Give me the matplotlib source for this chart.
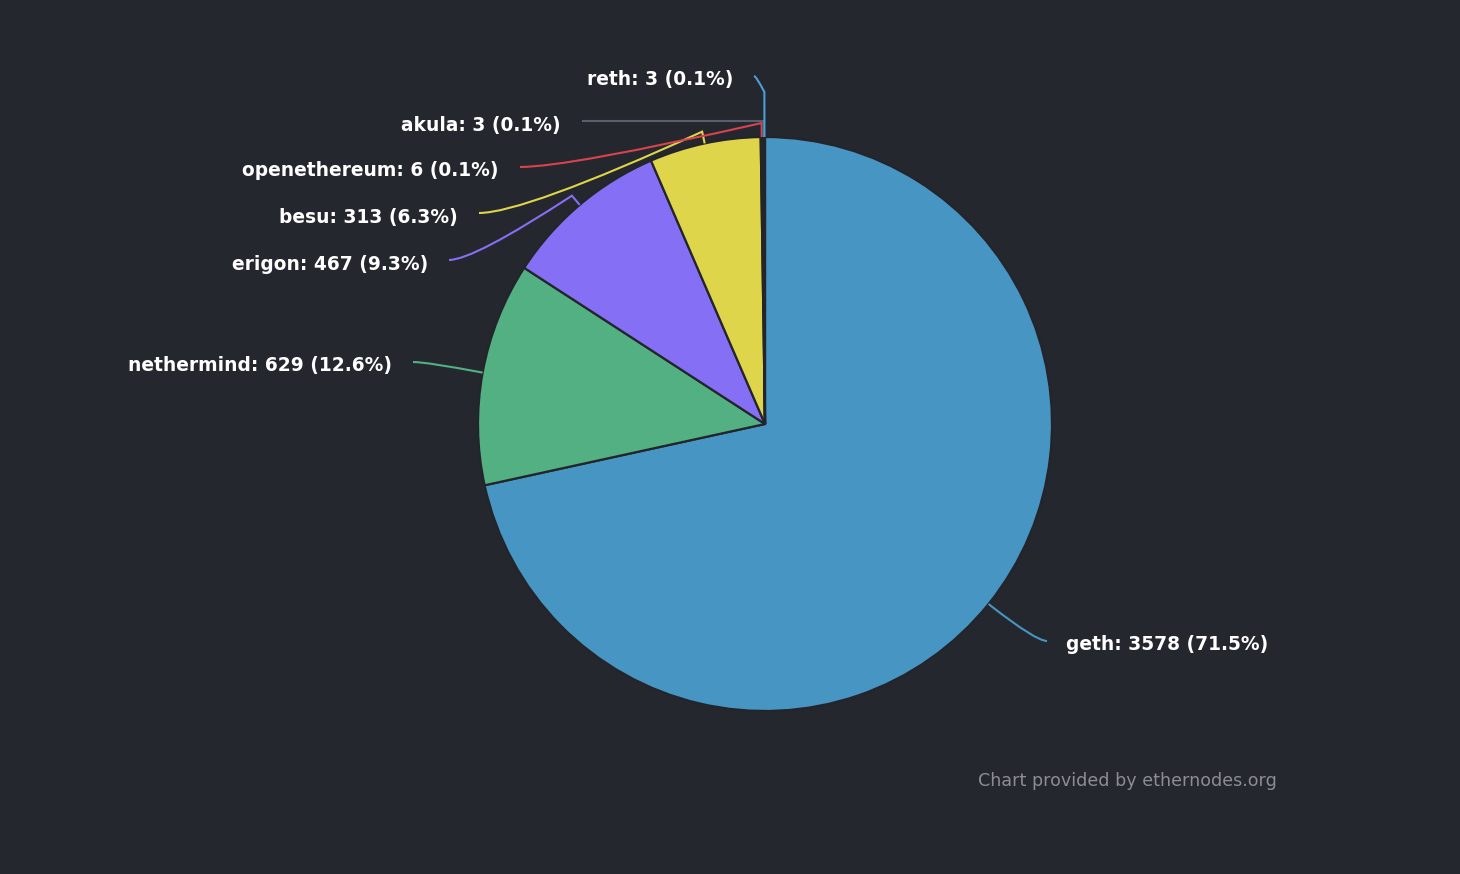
import numpy as np
import matplotlib.pyplot as plt
from matplotlib.path import Path
from matplotlib.patches import PathPatch

# data #
clients = ['geth', 'nethermind', 'erigon', 'besu', 'openethereum', 'akula', 'reth']
nodes = [3578, 629, 467, 313, 6, 3, 3]
pcts = [71.5, 12.6, 9.3, 6.3, 0.1, 0.1, 0.1]
colors = ['#4795c3', '#53b083', '#846ff5', '#dfd54a', '#d8434e', '#5a5f6e', '#4a9fd4']

# layout (pixels, y down) #
W, H = 1460, 874
cx, cy, R = 765, 424, 287
label_end = [(1047, 641), (413, 362), (449, 260), (479, 213), (520, 167), (582, 121), (754, 76)]
knee_d = [4, 2, 12, 12, 14, 16, 45]
bg = '#25272e'

fig = plt.figure(figsize=(W/100, H/100), dpi=100, facecolor=bg)
ax = fig.add_axes([0, 0, 1, 1])
ax.set_facecolor(bg)

def Y(y):
    return H - y

wedges, _ = ax.pie(nodes, colors=colors, startangle=90, counterclock=False,
                   center=(cx, Y(cy)), radius=R,
                   wedgeprops=dict(edgecolor='#23252b', linewidth=1.6))
ax.set_xlim(0, W)
ax.set_ylim(0, H)
ax.set_aspect('equal')
ax.axis('off')

total = sum(nodes)
cum = np.cumsum([0] + nodes) / total
for i, name in enumerate(clients):
    mid = (cum[i] + cum[i+1]) / 2 * 2 * np.pi
    dx, dy = np.sin(mid), np.cos(mid)  # dy is up
    sx, sy = cx + R*dx, Y(cy) + R*dy
    kx, ky = cx + (R + knee_d[i])*dx, Y(cy) + (R + knee_d[i])*dy
    ex, ey = label_end[i][0], Y(label_end[i][1])
    ctrl = (ex + 0.2*(kx - ex), ey)
    verts = [(sx, sy), (kx, ky), ctrl, (ex, ey)]
    codes = [Path.MOVETO, Path.LINETO, Path.CURVE3, Path.CURVE3]
    ax.add_patch(PathPatch(Path(verts, codes), fill=False, edgecolor=colors[i], lw=1.5))
    txt = f'{name}: {nodes[i]} ({pcts[i]}%)'
    if ex > cx:
        ax.text(ex + 19, ey - 4, txt, ha='left', va='center', color='white',
                fontsize=13.4, fontweight='bold', family='DejaVu Sans')
    else:
        ax.text(ex - 21, ey - 4, txt, ha='right', va='center', color='white',
                fontsize=13.4, fontweight='bold', family='DejaVu Sans')

ax.text(1277, Y(781), 'Chart provided by ethernodes.org', ha='right', va='center',
        color='#8b8d93', fontsize=12.6, family='DejaVu Sans')

plt.savefig('out.png', facecolor=bg)
